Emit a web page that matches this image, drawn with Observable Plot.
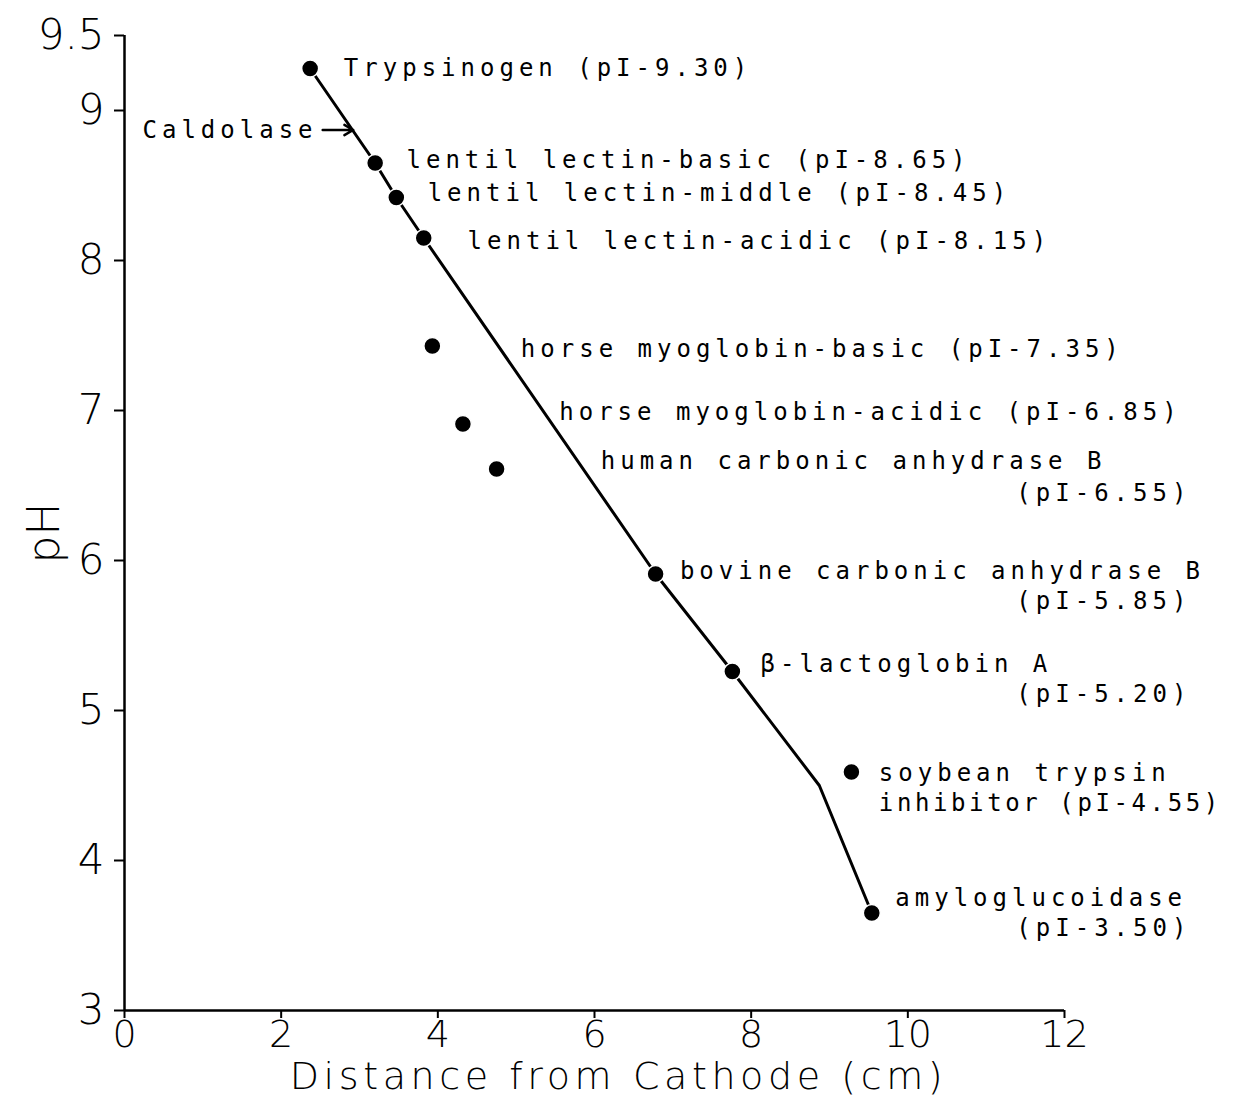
<!DOCTYPE html>
<html>
<head>
<meta charset="utf-8">
<script src="https://cdn.jsdelivr.net/npm/d3@7"></script>
<script src="https://cdn.jsdelivr.net/npm/@observablehq/plot@0.6"></script>
<style>
  html, body { margin: 0; padding: 0; background: #fff; }
</style>
</head>
<body>
<div id="chart"></div>
<script>
// Proteins: measured distance (cm) and pH at the focused position
const proteins = ["Trypsinogen", "lentil lectin-basic", "lentil lectin-middle", "lentil lectin-acidic",
  "horse myoglobin-basic", "horse myoglobin-acidic", "human carbonic anhydrase B",
  "bovine carbonic anhydrase B", "β-lactoglobin A", "soybean trypsin inhibitor", "amyloglucoidase"];
const distance = [2.37, 3.20, 3.47, 3.82, 3.93, 4.32, 4.75, 6.78, 7.76, 9.28, 9.54];
const ph = [9.28, 8.65, 8.42, 8.15, 7.43, 6.91, 6.61, 5.91, 5.26, 4.59, 3.65];

// Calibration curve vertices
const curveDistance = [2.37, 3.20, 3.47, 3.82, 6.78, 7.76, 8.87, 9.54];
const curvePh = [9.28, 8.65, 8.42, 8.15, 5.91, 5.26, 4.50, 3.65];

// Annotation texts with anchor (distance, pH) and alignment
const labelText = ["Trypsinogen (pI-9.30)", "Caldolase", "lentil lectin-basic (pI-8.65)",
  "lentil lectin-middle (pI-8.45)", "lentil lectin-acidic (pI-8.15)",
  "horse myoglobin-basic (pI-7.35)", "horse myoglobin-acidic (pI-6.85)",
  "human carbonic anhydrase B", "(pI-6.55)", "bovine carbonic anhydrase B", "(pI-5.85)",
  "β-lactoglobin A", "(pI-5.20)", "soybean trypsin", "inhibitor (pI-4.55)",
  "amyloglucoidase", "(pI-3.50)"];
const labelX = [2.80, 0.23, 3.60, 3.87, 4.38, 5.06, 5.55, 6.08, 13.62, 7.09, 13.62, 8.12, 13.62, 9.63, 9.63, 9.84, 13.62];
const labelY = [9.28, 8.87, 8.67, 8.45, 8.13, 7.41, 6.99, 6.66, 6.45, 5.93, 5.73, 5.31, 5.11, 4.58, 4.38, 3.75, 3.55];
const labelAnchor = ["start", "start", "start", "start", "start", "start", "start", "start", "end",
  "start", "end", "start", "end", "start", "start", "start", "end"];

// Caldolase arrow
const arrowFrom = {x: 2.53, y: 8.87};
const arrowTo = {x: 2.92, y: 8.87};

const yTicks = [3, 4, 5, 6, 7, 8, 9, 9.5];
const xTicks = [0, 2, 4, 6, 8, 10, 12];
const xTitle = "Distance from Cathode (cm)";
const yTitle = "pH";

const points = proteins.map((name, i) => ({name, x: distance[i], y: ph[i]}));
const curve = curveDistance.map((x, i) => ({x, y: curvePh[i]}));
const labels = labelText.map((t, i) => ({t, x: labelX[i], y: labelY[i], a: labelAnchor[i]}));

const axisFont = "'DejaVu Sans', sans-serif";
const monoFont = "'DejaVu Sans Mono', 'Liberation Mono', monospace";

const chart = Plot.plot({
  width: 1248,
  height: 1098,
  marginLeft: 124,
  marginRight: 184,
  marginTop: 35,
  marginBottom: 88,
  x: {domain: [0, 12]},
  y: {domain: [3, 9.5]},
  style: {background: "#fff", color: "#000"},
  marks: [
    Plot.ruleX([0], {y1: 3, y2: 9.5, stroke: "#000", strokeWidth: 2.5}),
    Plot.ruleY([3], {x1: 0, x2: 12, stroke: "#000", strokeWidth: 2.5}),
    Plot.axisY({ticks: yTicks, tickFormat: d => String(d), tickSize: 10, tickPadding: 10,
      strokeWidth: 2, label: null, fontSize: 42, fontFamily: axisFont}),
    Plot.axisX({ticks: xTicks, tickSize: 8, tickPadding: 2, strokeWidth: 2,
      label: null, fontSize: 38, fontFamily: axisFont}),
    Plot.text([xTitle], {frameAnchor: "bottom", text: d => d, dx: 24, dy: 78, fontSize: 38,
      fontFamily: axisFont, lineAnchor: "bottom"}),
    Plot.text([yTitle], {frameAnchor: "left", text: d => d, dx: -80, dy: 10, rotate: -90,
      textAnchor: "middle", fontSize: 44, fontFamily: axisFont}),
    Plot.line(curve, {x: "x", y: "y", stroke: "#000", strokeWidth: 3}),
    Plot.dot(points, {x: "x", y: "y", r: 8.5, fill: "#000", stroke: "#fff", strokeWidth: 1.5}),
    Plot.arrow([{x1: arrowFrom.x, y1: arrowFrom.y, x2: arrowTo.x, y2: arrowTo.y}],
      {x1: "x1", y1: "y1", x2: "x2", y2: "y2", stroke: "#000", strokeWidth: 2.5, headLength: 10}),
    Plot.text(labels.filter(d => d.a === "start"), {x: "x", y: "y", text: "t", textAnchor: "start",
      fontSize: 24, fontFamily: monoFont, fill: "#000"}),
    Plot.text(labels.filter(d => d.a === "end"), {x: "x", y: "y", text: "t", textAnchor: "end",
      fontSize: 24, fontFamily: monoFont, fill: "#000"})
  ]
});

const svg = d3.select(chart);
svg.selectAll("g[aria-label='text'] text").each(function() {
  const s = d3.select(this);
  const t = s.text();
  if (t === xTitle) s.style("letter-spacing", "4.6px").style("font-weight", "300");
  else if (t === yTitle) s.style("font-weight", "300");
  else s.style("letter-spacing", t.startsWith("inhibitor") ? "3.6px" : "5px");
});
svg.selectAll("g[aria-label='x-axis tick label'] text, g[aria-label='y-axis tick label'] text")
  .style("font-weight", "300");
document.getElementById("chart").appendChild(chart);
</script>
</body>
</html>
